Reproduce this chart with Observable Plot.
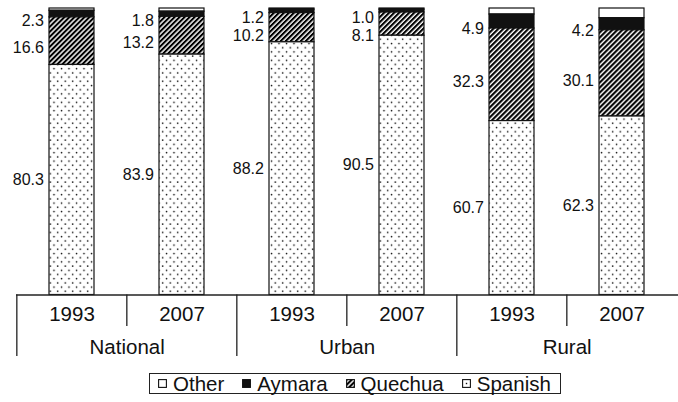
<!DOCTYPE html>
<html>
<head>
<meta charset="utf-8">
<script src="https://cdn.jsdelivr.net/npm/d3@7"></script>
<script src="https://cdn.jsdelivr.net/npm/@observablehq/plot@0.6"></script>
<style>
  html, body { margin: 0; padding: 0; background: #fff; }
  #wrap { position: relative; width: 678px; height: 402px; }
  #legend {
    position: absolute; left: 149px; top: 373px; width: 412px; height: 21px;
    box-sizing: border-box; border: 1px solid #222; display: flex; align-items: center;
    padding-left: 8px; font: 20.5px "Liberation Sans", Arial, sans-serif; line-height: 19px; color: #111;
  }
  #legend .item { display: flex; align-items: center; margin-right: 18px; }
  #legend svg { margin-right: 6px; }
</style>
</head>
<body>
<div id="wrap"></div>
<script>
// ---- data ----
const groups = ["National", "Urban", "Rural"];
const years = ["1993", "2007"];
const languages = ["Other", "Aymara", "Quechua", "Spanish"];
const spanish = [80.3, 83.9, 88.2, 90.5, 60.7, 62.3];
const quechua = [16.6, 13.2, 10.2, 8.1, 32.3, 30.1];
const aymara  = [2.3, 1.8, 1.2, 1.0, 4.9, 4.2];
const other   = [0.8, 1.1, 0.4, 0.4, 2.1, 3.4];
const seriesValues = { Spanish: spanish, Quechua: quechua, Aymara: aymara, Other: other };

// ---- build table ----
const keys = [];
const bars = [];
groups.forEach((g, gi) => years.forEach((yr, yi) => {
  const i = gi * 2 + yi;
  const key = g + " " + yr;
  keys.push(key);
  for (const lang of languages) bars.push({ key, group: g, year: yr, lang, value: seriesValues[lang][i] });
}));

// label positions (segment midpoints, kept apart near the top)
const W = 678, H = 362, mTop = 8, mBottom = 67.5;
const pxPerUnit = (H - mBottom - mTop) / 100;
const minSep = 18 / pxPerUnit;
const lowLabels = [], upLabels = [];
keys.forEach((key, i) => {
  const s = spanish[i], q = quechua[i], a = aymara[i];
  lowLabels.push({ key, y: s / 2, text: s.toFixed(1) });
  const aMid = s + q + a / 2;
  let qMid = s + q / 2;
  if (aMid - qMid < minSep) qMid = aMid - minSep;
  upLabels.push({ key, y: aMid, text: a.toFixed(1) });
  upLabels.push({ key, y: qMid, text: q.toFixed(1) });
});

const groupFirst = groups.map(g => ({ key: g + " " + years[0], label: g }));
const yearSeps = groups.map(g => ({ key: g + " " + years[1] }));
const yearRows = keys.map((k, i) => ({ key: k, label: years[i % 2] }));

const fills = {
  Other: "#ffffff",
  Aymara: "#111111",
  Quechua: "url(#hatch)",
  Spanish: "url(#dots)"
};

const step = (W - 16) / keys.length;
const bandW = step * 0.41;

const chart = Plot.plot({
  width: W, height: H,
  marginTop: mTop, marginBottom: mBottom, marginLeft: 16, marginRight: 0,
  x: { domain: keys, paddingInner: 0.59, paddingOuter: 0.295, axis: null },
  y: { domain: [0, 100], axis: null },
  color: { domain: languages, range: languages.map(l => fills[l]) },
  style: { fontFamily: "'Liberation Sans', Arial, sans-serif", background: "#fff", color: "#111" },
  marks: [
    Plot.barY(bars, {
      x: "key", y: "value", fill: "lang",
      order: ["Spanish", "Quechua", "Aymara", "Other"],
      stroke: "#111", strokeWidth: 1.2
    }),
    Plot.ruleY([0], { stroke: "#222", strokeWidth: 1.3 }),
    Plot.ruleX(yearSeps, { x: "key", dx: -step / 2, y1: () => 0, y2: () => -11, stroke: "#222", strokeWidth: 1.3 }),
    Plot.ruleX(groupFirst, { x: "key", dx: -step / 2, y1: () => 0, y2: () => -21.5, stroke: "#222", strokeWidth: 1.3 }),
    Plot.text(yearRows, { x: "key", frameAnchor: "bottom", lineAnchor: "middle", dy: 19, text: "label", fontSize: 20.5, fill: "#111" }),
    Plot.text(groupFirst, { x: "key", dx: step / 2, frameAnchor: "bottom", lineAnchor: "middle", dy: 52.5, text: "label", fontSize: 20.5, fill: "#111" }),
    Plot.text(lowLabels, { x: "key", y: "y", text: "text", dx: -(bandW / 2 + 5.5), textAnchor: "end", fontSize: 16, fill: "#111" }),
    Plot.text(upLabels, { x: "key", y: "y", text: "text", dx: -(bandW / 2 + 5.5), dy: 7, textAnchor: "end", fontSize: 16, fill: "#111" })
  ]
});

// patterns
const defs = d3.select(chart).insert("defs", ":first-child");
const dots = defs.append("pattern").attr("id", "dots").attr("patternUnits", "userSpaceOnUse")
  .attr("width", 7.5).attr("height", 8.4);
dots.append("rect").attr("width", 7.5).attr("height", 8.4).attr("fill", "#fff");
dots.append("circle").attr("cx", 1.5).attr("cy", 1.5).attr("r", 0.8).attr("fill", "#000");
dots.append("circle").attr("cx", 5.25).attr("cy", 5.7).attr("r", 0.8).attr("fill", "#000");
const hatch = defs.append("pattern").attr("id", "hatch").attr("patternUnits", "userSpaceOnUse")
  .attr("width", 3.54).attr("height", 3.54).attr("patternTransform", "rotate(45)");
hatch.append("rect").attr("width", 3.54).attr("height", 3.54).attr("fill", "#fff");
hatch.append("rect").attr("width", 2.1).attr("height", 3.54).attr("fill", "#000");

const wrap = document.getElementById("wrap");
wrap.appendChild(chart);

// legend
const legend = document.createElement("div");
legend.id = "legend";
languages.forEach(lang => {
  const item = document.createElement("span");
  item.className = "item";
  const sw = d3.create("svg").attr("width", 9).attr("height", 9);
  sw.append("rect").attr("x", 0.6).attr("y", 0.6).attr("width", 7.8).attr("height", 7.8)
    .attr("fill", lang === "Spanish" ? "#fff" : fills[lang]).attr("stroke", "#111").attr("stroke-width", 1.1);
  if (lang === "Spanish") sw.append("rect").attr("x", 3.8).attr("y", 3.8).attr("width", 1.4).attr("height", 1.4).attr("fill", "#111");
  item.appendChild(sw.node());
  item.appendChild(document.createTextNode(lang));
  legend.appendChild(item);
});
wrap.appendChild(legend);
</script>
</body>
</html>
